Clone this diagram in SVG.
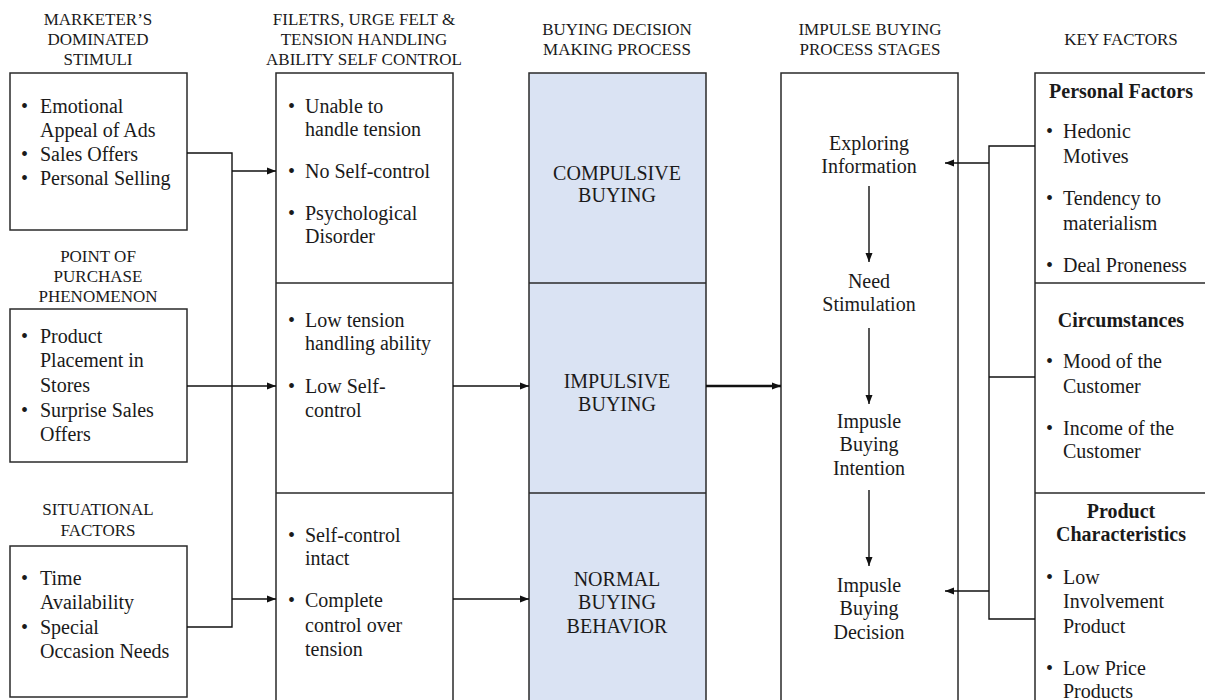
<svg xmlns="http://www.w3.org/2000/svg" width="1205" height="700" viewBox="0 0 1205 700">
  <style>
    .hd { font-family: "Liberation Serif", "Times New Roman", serif; font-size: 17px; fill: #1a1a1a; text-anchor: middle; }
    .tx { font-family: "Liberation Serif", "Times New Roman", serif; font-size: 20px; fill: #1a1a1a; }
    .ct { text-anchor: middle; }
    .bd { font-weight: bold; text-anchor: middle; }
    .box { fill: #ffffff; stroke: #2a2a2a; stroke-width: 1.5; }
    .blue { fill: #dae3f3; stroke: #2a2a2a; stroke-width: 1.5; }
    .div { stroke: #2a2a2a; stroke-width: 1.5; fill: none; }
    .ln { stroke: #111111; stroke-width: 1.4; fill: none; }
    .arr { stroke: #111111; stroke-width: 1.4; fill: none; marker-end: url(#ah); }
    .arrb { stroke: #111111; stroke-width: 2.4; fill: none; marker-end: url(#ah); }
  </style>
  <defs>
    <marker id="ah" markerUnits="userSpaceOnUse" markerWidth="9" markerHeight="8" refX="9" refY="4" orient="auto">
      <path d="M0,0.5 L9,4 L0,7.5 z" fill="#111111"/>
    </marker>
  </defs>

  <rect width="1205" height="700" fill="#ffffff"/>

  <!-- column headers -->
  <g id="headers">
    <text class="hd" x="98" y="25">MARKETER’S</text>
    <text class="hd" x="98" y="45">DOMINATED</text>
    <text class="hd" x="98" y="65">STIMULI</text>
    <text class="hd" x="364" y="25">FILETRS, URGE FELT &amp;</text>
    <text class="hd" x="364" y="45">TENSION HANDLING</text>
    <text class="hd" x="364" y="65">ABILITY SELF CONTROL</text>
    <text class="hd" x="617" y="35">BUYING DECISION</text>
    <text class="hd" x="617" y="55">MAKING PROCESS</text>
    <text class="hd" x="870" y="35">IMPULSE BUYING</text>
    <text class="hd" x="870" y="55">PROCESS STAGES</text>
    <text class="hd" x="1121" y="45">KEY FACTORS</text>
  </g>

  <!-- stimulus boxes -->
  <g id="marketer-stimuli">
    <rect class="box" x="10" y="73" width="177" height="157"/>
    <text class="tx" x="21" y="113">•</text>
    <text class="tx" x="40" y="113">Emotional</text>
    <text class="tx" x="40" y="137">Appeal of Ads</text>
    <text class="tx" x="21" y="161">•</text>
    <text class="tx" x="40" y="161">Sales Offers</text>
    <text class="tx" x="21" y="185">•</text>
    <text class="tx" x="40" y="185">Personal Selling</text>
  </g>

  <g id="point-of-purchase">
    <text class="hd" x="98" y="262">POINT OF</text>
    <text class="hd" x="98" y="282">PURCHASE</text>
    <text class="hd" x="98" y="302">PHENOMENON</text>
    <rect class="box" x="10" y="309" width="177" height="153"/>
    <text class="tx" x="21" y="343">•</text>
    <text class="tx" x="40" y="343">Product</text>
    <text class="tx" x="40" y="367">Placement in</text>
    <text class="tx" x="40" y="392">Stores</text>
    <text class="tx" x="21" y="417">•</text>
    <text class="tx" x="40" y="417">Surprise Sales</text>
    <text class="tx" x="40" y="441">Offers</text>
  </g>

  <g id="situational-factors">
    <text class="hd" x="98" y="515">SITUATIONAL</text>
    <text class="hd" x="98" y="536">FACTORS</text>
    <rect class="box" x="10" y="546" width="177" height="151"/>
    <text class="tx" x="21" y="585">•</text>
    <text class="tx" x="40" y="585">Time</text>
    <text class="tx" x="40" y="609">Availability</text>
    <text class="tx" x="21" y="634">•</text>
    <text class="tx" x="40" y="634">Special</text>
    <text class="tx" x="40" y="658">Occasion Needs</text>
  </g>

  <!-- filters / self control column -->
  <g id="filters">
    <rect class="box" x="276" y="73" width="177" height="640"/>
    <line class="div" x1="276" y1="283" x2="453" y2="283"/>
    <line class="div" x1="276" y1="493" x2="453" y2="493"/>
    <text class="tx" x="288" y="113">•</text>
    <text class="tx" x="305" y="113">Unable to</text>
    <text class="tx" x="305" y="136">handle tension</text>
    <text class="tx" x="288" y="178">•</text>
    <text class="tx" x="305" y="178">No Self-control</text>
    <text class="tx" x="288" y="220">•</text>
    <text class="tx" x="305" y="220">Psychological</text>
    <text class="tx" x="305" y="243">Disorder</text>

    <text class="tx" x="288" y="327">•</text>
    <text class="tx" x="305" y="327">Low tension</text>
    <text class="tx" x="305" y="350">handling ability</text>
    <text class="tx" x="288" y="393">•</text>
    <text class="tx" x="305" y="393">Low Self-</text>
    <text class="tx" x="305" y="417">control</text>

    <text class="tx" x="288" y="542">•</text>
    <text class="tx" x="305" y="542">Self-control</text>
    <text class="tx" x="305" y="565">intact</text>
    <text class="tx" x="288" y="607">•</text>
    <text class="tx" x="305" y="607">Complete</text>
    <text class="tx" x="305" y="632">control over</text>
    <text class="tx" x="305" y="656">tension</text>
  </g>

  <!-- buying decision column -->
  <g id="decision-process">
    <rect class="blue" x="529" y="73" width="177" height="640"/>
    <line class="div" x1="529" y1="283" x2="706" y2="283"/>
    <line class="div" x1="529" y1="493" x2="706" y2="493"/>
    <text class="tx ct" x="617" y="180">COMPULSIVE</text>
    <text class="tx ct" x="617" y="202">BUYING</text>
    <text class="tx ct" x="617" y="388">IMPULSIVE</text>
    <text class="tx ct" x="617" y="411">BUYING</text>
    <text class="tx ct" x="617" y="586">NORMAL</text>
    <text class="tx ct" x="617" y="609">BUYING</text>
    <text class="tx ct" x="617" y="633">BEHAVIOR</text>
  </g>

  <!-- impulse buying stages -->
  <g id="impulse-stages">
    <rect class="box" x="781" y="73" width="177" height="640"/>
    <text class="tx ct" x="869" y="150">Exploring</text>
    <text class="tx ct" x="869" y="173">Information</text>
    <text class="tx ct" x="869" y="288">Need</text>
    <text class="tx ct" x="869" y="311">Stimulation</text>
    <text class="tx ct" x="869" y="428">Impusle</text>
    <text class="tx ct" x="869" y="451">Buying</text>
    <text class="tx ct" x="869" y="475">Intention</text>
    <text class="tx ct" x="869" y="592">Impusle</text>
    <text class="tx ct" x="869" y="615">Buying</text>
    <text class="tx ct" x="869" y="639">Decision</text>
  </g>

  <!-- key factors column -->
  <g id="key-factors">
    <rect class="box" x="1035" y="73" width="190" height="640"/>
    <line class="div" x1="1035" y1="283" x2="1205" y2="283"/>
    <line class="div" x1="1035" y1="493" x2="1205" y2="493"/>
    <text class="tx bd" x="1121" y="98">Personal Factors</text>
    <text class="tx" x="1046" y="138">•</text>
    <text class="tx" x="1063" y="138">Hedonic</text>
    <text class="tx" x="1063" y="163">Motives</text>
    <text class="tx" x="1046" y="205">•</text>
    <text class="tx" x="1063" y="205">Tendency to</text>
    <text class="tx" x="1063" y="230">materialism</text>
    <text class="tx" x="1046" y="272">•</text>
    <text class="tx" x="1063" y="272">Deal Proneness</text>

    <text class="tx bd" x="1121" y="327">Circumstances</text>
    <text class="tx" x="1046" y="368">•</text>
    <text class="tx" x="1063" y="368">Mood of the</text>
    <text class="tx" x="1063" y="393">Customer</text>
    <text class="tx" x="1046" y="435">•</text>
    <text class="tx" x="1063" y="435">Income of the</text>
    <text class="tx" x="1063" y="458">Customer</text>

    <text class="tx bd" x="1121" y="518">Product</text>
    <text class="tx bd" x="1121" y="541">Characteristics</text>
    <text class="tx" x="1046" y="584">•</text>
    <text class="tx" x="1063" y="584">Low</text>
    <text class="tx" x="1063" y="608">Involvement</text>
    <text class="tx" x="1063" y="633">Product</text>
    <text class="tx" x="1046" y="675">•</text>
    <text class="tx" x="1063" y="675">Low Price</text>
    <text class="tx" x="1063" y="698">Products</text>
  </g>

  <!-- connectors -->
  <g id="connectors">
    <!-- stimuli merge into the filters column -->
    <polyline class="ln" points="187,153 232,153 232,627 187,627"/>
    <line class="arr" x1="232" y1="171" x2="276" y2="171"/>
    <line class="arr" x1="187" y1="386" x2="276" y2="386"/>
    <line class="arr" x1="232" y1="599" x2="276" y2="599"/>
    <!-- filters to buying decision -->
    <line class="arr" x1="453" y1="386" x2="529" y2="386"/>
    <line class="arr" x1="453" y1="599" x2="529" y2="599"/>
    <!-- impulsive buying to stages -->
    <line class="arrb" x1="706" y1="386" x2="781" y2="386"/>
    <!-- stage sequence -->
    <line class="arr" x1="869" y1="186" x2="869" y2="262"/>
    <line class="arr" x1="869" y1="328" x2="869" y2="404"/>
    <line class="arr" x1="869" y1="490" x2="869" y2="566"/>
    <!-- key factors feed into stages -->
    <polyline class="ln" points="1035,146 989,146 989,619 1035,619"/>
    <line class="ln" x1="989" y1="377" x2="1035" y2="377"/>
    <line class="arr" x1="989" y1="163" x2="945" y2="163"/>
    <line class="arr" x1="989" y1="591" x2="945" y2="591"/>
  </g>
</svg>
